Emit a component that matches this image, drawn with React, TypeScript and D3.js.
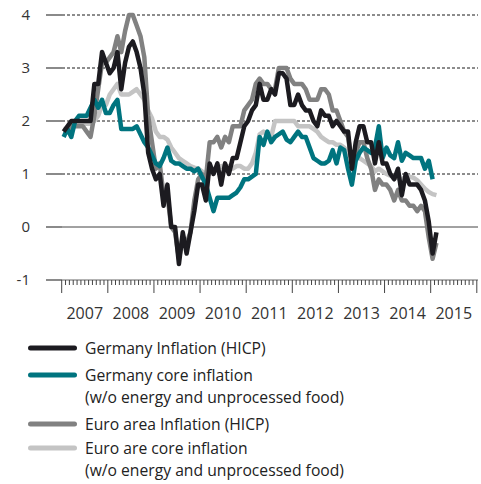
import React from "react";
import * as d3 from "d3";

const yearLabels = ["2007", "2008", "2009", "2010", "2011", "2012", "2013", "2014", "2015"];
const yTicks = [-1, 0, 1, 2, 3, 4];

// monthly values from Jan 2007
const germanyHicp = [
  1.8, 1.9, 2.0, 2.0, 2.0, 2.0, 2.0, 2.0, 2.7, 2.7, 3.3, 3.1,
  2.9, 3.0, 3.3, 2.6, 3.1, 3.4, 3.5, 3.3, 3.0, 2.5, 1.4, 1.1,
  0.9, 1.0, 0.4, 0.8, 0.0, 0.0, -0.7, -0.1, -0.5, -0.1, 0.3, 0.8,
  0.8, 0.5, 1.2, 1.0, 1.2, 0.8, 1.2, 1.0, 1.3, 1.3, 1.6, 1.9,
  2.0, 2.2, 2.3, 2.7, 2.4, 2.4, 2.6, 2.5, 2.9, 2.9, 2.8, 2.3,
  2.3, 2.5, 2.3, 2.2, 2.2, 2.0, 1.9, 2.2, 2.1, 2.1, 1.9, 2.0,
  1.9, 1.8, 1.8, 1.1, 1.6, 1.9, 1.9, 1.6, 1.6, 1.2, 1.6, 1.2,
  1.2, 1.0, 0.9, 1.1, 0.6, 1.0, 0.8, 0.8, 0.8, 0.7, 0.5, 0.1,
  -0.5, -0.1,
];

const germanyCore = [
  1.7, 1.85, 1.7, 2.0, 2.1, 2.1, 2.1, 2.25, 2.4, 2.25, 2.4, 2.15,
  2.15, 2.3, 2.4, 1.85, 1.85, 1.85, 1.85, 1.9, 1.75, 1.6, 1.5, 1.35,
  1.2, 1.15, 1.3, 1.5, 1.25, 1.2, 1.2, 1.15, 1.1, 1.1, 1.05, 1.1,
  0.95, 0.8, 0.55, 0.3, 0.55, 0.55, 0.55, 0.55, 0.6, 0.65, 0.75, 0.9,
  0.9, 0.95, 1.0, 1.7, 1.55, 1.8, 1.6, 1.7, 1.75, 1.8, 1.65, 1.6,
  1.7, 1.8, 1.7, 1.7, 1.5, 1.3, 1.25, 1.2, 1.2, 1.25, 1.45, 1.2,
  1.5, 1.45, 1.1, 0.8, 1.25, 1.4, 1.5, 1.45, 1.4, 1.5, 1.9, 1.3,
  1.5, 1.35, 1.3, 1.6, 1.25, 1.4, 1.35, 1.3, 1.3, 1.3, 1.1, 1.25,
  0.9,
];

const euroHicp = [
  1.8, 1.8, 1.9, 1.9, 1.9, 1.9, 1.8, 1.7, 2.1, 2.6, 3.1, 3.1,
  3.2, 3.3, 3.6, 3.3, 3.7, 4.0, 4.0, 3.8, 3.6, 3.2, 2.1, 1.6,
  1.1, 1.2, 0.6, 0.6, 0.0, -0.1, -0.6, -0.2, -0.3, -0.1, 0.5, 0.9,
  1.0, 0.9, 1.6, 1.6, 1.7, 1.5, 1.7, 1.6, 1.9, 1.9, 1.9, 2.2,
  2.3, 2.4, 2.7, 2.8, 2.7, 2.7, 2.6, 2.6, 3.0, 3.0, 3.0, 2.8,
  2.7, 2.7, 2.7, 2.6, 2.4, 2.4, 2.4, 2.6, 2.6, 2.5, 2.2, 2.2,
  2.0, 1.8, 1.7, 1.2, 1.4, 1.6, 1.6, 1.3, 1.1, 0.7, 0.9, 0.8,
  0.8, 0.7, 0.5, 0.7, 0.5, 0.5, 0.4, 0.4, 0.3, 0.4, 0.3, -0.2,
  -0.6, -0.3,
];

const euroCore = [
  1.85, 1.85, 1.9, 1.95, 1.95, 1.95, 1.95, 1.95, 2.0, 2.1, 2.3, 2.3,
  2.5, 2.6, 2.7, 2.5, 2.5, 2.5, 2.55, 2.6, 2.5, 2.4, 2.2, 2.05,
  1.8, 1.7, 1.7, 1.65, 1.5, 1.4, 1.3, 1.25, 1.2, 1.15, 1.12, 1.1,
  1.05, 1.0, 1.0, 1.05, 1.1, 1.15, 1.1, 1.15, 1.1, 1.15, 1.15, 1.1,
  1.1, 1.2, 1.4, 1.75, 1.8, 1.75, 1.7, 2.0, 2.0, 2.0, 2.0, 2.0,
  2.0, 1.9, 1.9, 1.9, 1.9, 1.85, 1.8, 1.7, 1.65, 1.6, 1.6, 1.55,
  1.55, 1.5, 1.4, 1.3, 1.35, 1.3, 1.25, 1.2, 1.15, 1.05, 1.1, 1.05,
  1.0, 0.97, 0.95, 0.92, 0.9, 0.95, 0.95, 0.93, 0.88, 0.8, 0.72, 0.66,
  0.62, 0.6,
];

const legendLabels = [
  ["Germany Inflation (HICP)"],
  ["Germany core inflation", "(w/o energy and unprocessed food)"],
  ["Euro area Inflation (HICP)"],
  ["Euro are core inflation", "(w/o energy and unprocessed food)"],
];
const colors = ["#1c1b20", "#00747f", "#818181", "#c4c4c4"];

const FONT = "'Open Sans', 'Noto Sans', sans-serif";

export default function App() {
  const W = 481;
  const H = 484;
  const x = d3.scaleLinear().domain([0, 108]).range([61.7, 476.8]);
  const y = d3.scaleLinear().domain([-1, 4]).range([280, 15]);
  const line = d3
    .line<number>()
    .x((_, i) => x(i + 0.5))
    .y((d) => y(d));

  const series = [germanyHicp, germanyCore, euroHicp, euroCore];
  const drawOrder = [3, 2, 1, 0];
  const months = d3.range(0, 109);
  const legendY = [348, 375, 424, 448];
  const lineGap = 22;

  return (
    <svg
      width={W}
      height={H}
      style={{ position: "absolute", left: 0, top: 0, background: "#fff" }}
      fontFamily={FONT}
    >
      {/* y tick stubs + labels */}
      {yTicks.map((t) => (
        <g key={"yt" + t}>
          <line x1={46} x2={62} y1={y(t)} y2={y(t)} stroke="#8a8a8a" strokeWidth={2} />
          <text
            x={30}
            y={y(t)}
            dy="0.36em"
            textAnchor="end"
            fontSize={15}
            fill="#333"
          >
            {t}
          </text>
        </g>
      ))}
      {/* gridlines */}
      {yTicks
        .filter((t) => t > 0)
        .map((t) => (
          <line
            key={"g" + t}
            x1={62}
            x2={478}
            y1={y(t)}
            y2={y(t)}
            stroke="#1a1a1a"
            strokeWidth={1}
            strokeDasharray="3,2"
          />
        ))}
      <line x1={62} x2={478} y1={y(0)} y2={y(0)} stroke="#444" strokeWidth={1} />
      {/* x axis */}
      <line x1={62} x2={478} y1={y(-1)} y2={y(-1)} stroke="#666" strokeWidth={1} />
      {months.map((m) => (
        <line
          key={"mt" + m}
          x1={x(m)}
          x2={x(m)}
          y1={y(-1)}
          y2={m % 12 === 0 ? 293 : 285}
          stroke="#444"
          strokeWidth={1}
        />
      ))}
      {yearLabels.map((lbl, i) => (
        <text
          key={lbl}
          x={x(i * 12 + 6)}
          y={319}
          textAnchor="middle"
          fontSize={16}
          fill="#333"
        >
          {lbl}
        </text>
      ))}
      {/* series */}
      {drawOrder.map((si) => (
        <path
          key={"s" + si}
          d={line(series[si]) || ""}
          fill="none"
          stroke={colors[si]}
          strokeWidth={4.5}
          strokeLinejoin="round"
          strokeLinecap="butt"
        />
      ))}
      {/* legend */}
      {legendLabels.map((lines, i) => (
        <g key={"lg" + i}>
          <line
            x1={30.5}
            x2={74.5}
            y1={legendY[i]}
            y2={legendY[i]}
            stroke={colors[i]}
            strokeWidth={5}
            strokeLinecap="round"
          />
          {lines.map((t, j) => (
            <text
              key={j}
              x={85}
              y={legendY[i] + 6 + j * lineGap}
              fontSize={15.7}
              fill="#222"
            >
              {t}
            </text>
          ))}
        </g>
      ))}
    </svg>
  );
}
